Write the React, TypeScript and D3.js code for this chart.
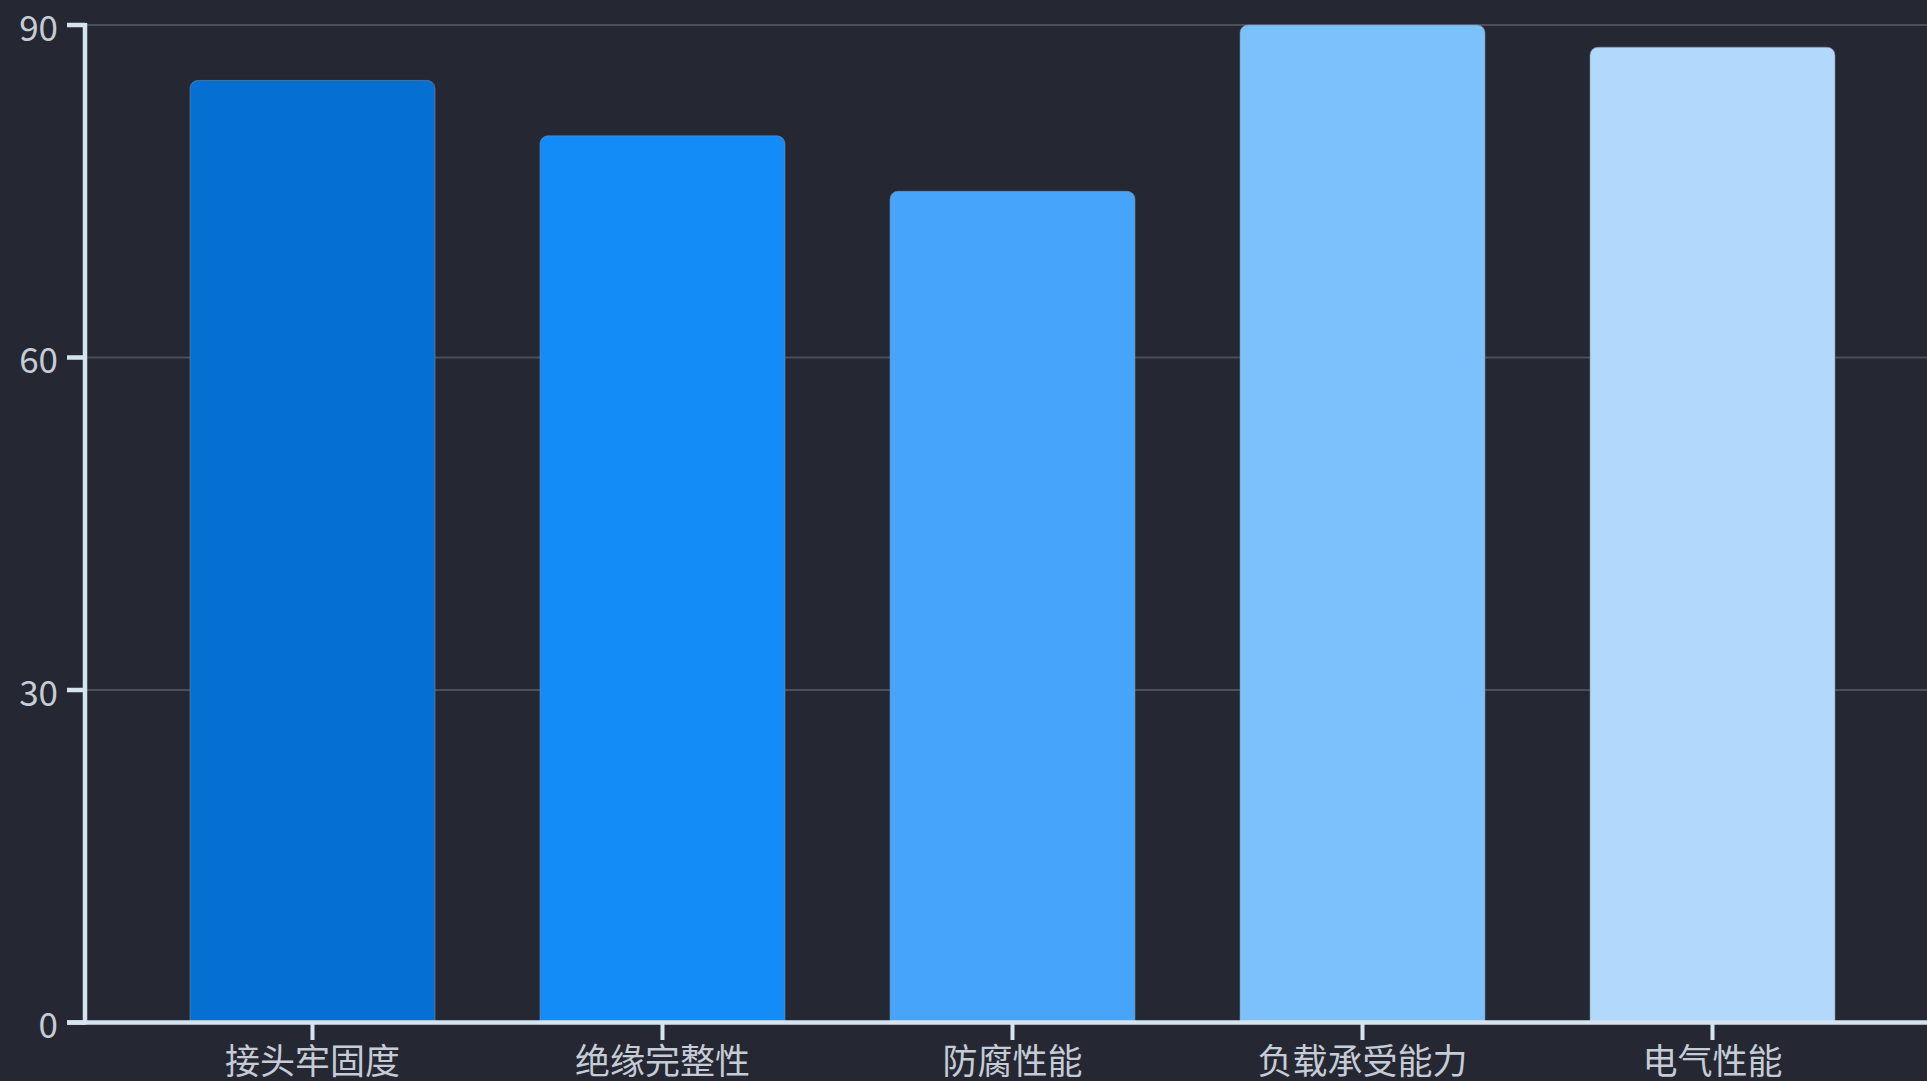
import React from "react";
import * as d3 from "d3";

const categories = ["接头牢固度", "绝缘完整性", "防腐性能", "负载承受能力", "电气性能"];
const values = [85, 80, 75, 90, 88];
const barColors = ["#0570d1", "#148cf7", "#47a5f9", "#7cc1fb", "#b2d8fc"];
const yTicks = [0, 30, 60, 90];

const W = 1927;
const H = 1081;
const BG = "#252833";
const AXIS = "#d6e4f0";
const GRID = "#4b4f5a";
const TEXT = "#c5ccd6";
const FONT = '"Noto Sans CJK SC", "Noto Sans", sans-serif';

function topRoundedBar(x: number, y: number, w: number, h: number, r: number) {
  const rr = Math.min(r, w / 2, h);
  const p = d3.path();
  p.moveTo(x, y + h);
  p.lineTo(x, y + rr);
  p.arcTo(x, y, x + rr, y, rr);
  p.lineTo(x + w - rr, y);
  p.arcTo(x + w, y, x + w, y + rr, rr);
  p.lineTo(x + w, y + h);
  p.closePath();
  return p.toString();
}

export default function App() {
  const x0 = 85;
  const yBottom = 1022.5;
  const yTop = 25;
  const x = d3.scaleBand<string>().domain(categories).range([x0, 1940]).paddingInner(0.3).paddingOuter(0.3);
  const y = d3.scaleLinear().domain([0, 90]).range([yBottom, yTop]);

  return (
    <div style={{ position: "fixed", left: 0, top: 0, width: W, height: H, background: BG }}>
      <svg width={W} height={H} style={{ display: "block" }}>
        <rect x={0} y={0} width={W} height={H} fill={BG} />
        {yTicks.filter((t) => t > 0).map((t) => (
          <line key={"g" + t} x1={x0} x2={W} y1={y(t)} y2={y(t)} stroke={GRID} strokeWidth={2} />
        ))}
        {categories.map((c, i) => {
          const bx = x(c)!;
          const bw = x.bandwidth();
          const by = y(values[i]);
          return (
            <path
              key={c}
              d={topRoundedBar(bx, by, bw, yBottom - by, 8)}
              fill={barColors[i]}
              stroke="rgba(130,140,155,0.55)"
              strokeWidth={1}
            />
          );
        })}
        <line x1={x0} x2={x0} y1={yTop - 2} y2={yBottom + 2} stroke={AXIS} strokeWidth={4.5} />
        {yTicks.map((t) => (
          <g key={"t" + t}>
            <line x1={67} x2={x0} y1={y(t)} y2={y(t)} stroke={AXIS} strokeWidth={4.5} />
            <text
              x={58}
              y={y(t)}
              textAnchor="end"
              dominantBaseline="central"
              fill={TEXT}
              fontSize={35}
              fontFamily={FONT}
            >
              {t}
            </text>
          </g>
        ))}
        <line x1={67} x2={W} y1={yBottom} y2={yBottom} stroke={AXIS} strokeWidth={4.5} />
        {categories.map((c) => {
          const cx = x(c)! + x.bandwidth() / 2;
          return (
            <g key={"x" + c}>
              <line x1={cx} x2={cx} y1={yBottom} y2={1040} stroke={AXIS} strokeWidth={4} />
              <text x={cx} y={1074} textAnchor="middle" fill={TEXT} fontSize={35} fontFamily={FONT}>
                {c}
              </text>
            </g>
          );
        })}
      </svg>
    </div>
  );
}
